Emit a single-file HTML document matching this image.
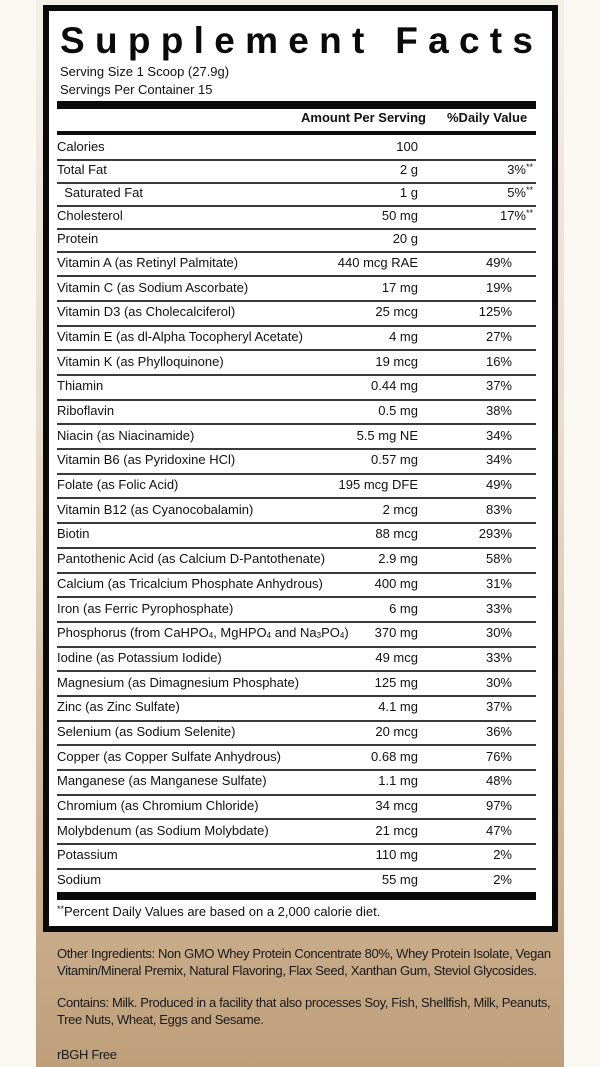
<!DOCTYPE html>
<html><head><meta charset="utf-8">
<style>
html,body{margin:0;padding:0;}
body{width:600px;height:1067px;position:relative;overflow:hidden;background:#fbf8f4;font-family:"Liberation Sans",Arial,sans-serif;color:#111;}
#panel{position:absolute;left:36px;top:0;width:528px;height:1067px;background:linear-gradient(to bottom,#f4efe6 0%,#e6d9c6 45%,#cdb293 80%,#bf9f7a 100%);}
#box{position:absolute;left:43px;top:5px;width:503px;height:915px;border:6px solid #0a0a0a;background:#fff;}
.t{position:absolute;font-size:13px;white-space:nowrap;line-height:16px;}
.r{text-align:right;}
.bar{position:absolute;left:57px;width:479px;background:#0a0a0a;}
.sep{position:absolute;left:57px;width:479px;height:2px;background:#3a3a3a;}
sub{font-size:8px;vertical-align:-1px;line-height:0;}
.p{position:absolute;left:57px;font-size:13px;line-height:17px;color:#1a1a1a;white-space:nowrap;letter-spacing:-0.35px;}
.sup{font-size:9px;position:relative;top:-4px;}
</style></head><body>
<div id="panel"></div>
<div id="box"></div>
<svg style="position:absolute;left:0;top:0" width="600" height="70">
<text x="60" y="53" textLength="473" lengthAdjust="spacing" font-family="Liberation Sans, Arial, sans-serif" font-weight="bold" font-size="37" fill="#0a0a0a">Supplement Facts</text>
</svg>
<div class="t" style="left:60px;top:64px;">Serving Size 1 Scoop (27.9g)</div>
<div class="t" style="left:60px;top:82px;">Servings Per Container 15</div>
<div class="bar" style="top:101px;height:8px;"></div>
<div class="t" style="left:301px;top:110px;font-weight:bold;">Amount Per Serving</div>
<div class="t" style="left:447px;top:110px;font-weight:bold;">%Daily Value</div>
<div class="bar" style="top:131px;height:4px;"></div>
<div id="rows"></div>
<div class="bar" style="top:892px;height:8px;"></div>
<div class="t" style="left:57px;top:904px;"><span class="sup">**</span>Percent Daily Values are based on a 2,000 calorie diet.</div>
<div class="p" style="top:945px;">Other Ingredients: Non GMO Whey Protein Concentrate 80%, Whey Protein Isolate, Vegan<br>Vitamin/Mineral Premix, Natural Flavoring, Flax Seed, Xanthan Gum, Steviol Glycosides.</div>
<div class="p" style="top:994px;">Contains: Milk. Produced in a facility that also processes Soy, Fish, Shellfish, Milk, Peanuts,<br>Tree Nuts, Wheat, Eggs and Sesame.</div>
<div class="p" style="top:1046px;">rBGH Free</div>
<script>
const nutrients=["Calories","Total Fat","&nbsp;&nbsp;Saturated Fat","Cholesterol","Protein","Vitamin A (as Retinyl Palmitate)","Vitamin C (as Sodium Ascorbate)","Vitamin D3 (as Cholecalciferol)","Vitamin E (as dl-Alpha Tocopheryl Acetate)","Vitamin K (as Phylloquinone)","Thiamin","Riboflavin","Niacin (as Niacinamide)","Vitamin B6 (as Pyridoxine HCl)","Folate (as Folic Acid)","Vitamin B12 (as Cyanocobalamin)","Biotin","Pantothenic Acid (as Calcium D-Pantothenate)","Calcium (as Tricalcium Phosphate Anhydrous)","Iron (as Ferric Pyrophosphate)","Phosphorus (from CaHPO<sub>4</sub>, MgHPO<sub>4</sub> and Na<sub>3</sub>PO<sub>4</sub>)","Iodine (as Potassium Iodide)","Magnesium (as Dimagnesium Phosphate)","Zinc (as Zinc Sulfate)","Selenium (as Sodium Selenite)","Copper (as Copper Sulfate Anhydrous)","Manganese (as Manganese Sulfate)","Chromium (as Chromium Chloride)","Molybdenum (as Sodium Molybdate)","Potassium","Sodium"];
const amounts=["100","2 g","1 g","50 mg","20 g","440 mcg RAE","17 mg","25 mcg","4 mg","19 mcg","0.44 mg","0.5 mg","5.5 mg NE","0.57 mg","195 mcg DFE","2 mcg","88 mcg","2.9 mg","400 mg","6 mg","370 mg","49 mcg","125 mg","4.1 mg","20 mcg","0.68 mg","1.1 mg","34 mcg","21 mcg","110 mg","55 mg"];
const dailyValues=["","3%**","5%**","17%**","","49%","19%","125%","27%","16%","37%","38%","34%","34%","49%","83%","293%","58%","31%","33%","30%","33%","30%","37%","36%","76%","48%","97%","47%","2%","2%"];
const rows=document.getElementById('rows');
function rowCenter(i){return i<5?147+23*i:263+24.68*(i-5);}
for(let i=0;i<nutrients.length;i++){
  const c=rowCenter(i);
  const n=document.createElement('div');n.className='t';n.style.left='57px';n.style.top=(c-8)+'px';n.innerHTML=nutrients[i];
  
  
  rows.appendChild(n);
  const a=document.createElement('div');a.className='t r';a.style.left='300px';a.style.width='118px';a.style.top=(c-8)+'px';a.textContent=amounts[i];
  
  
  rows.appendChild(a);
  const d=document.createElement('div');d.className='t';d.style.left='473px';d.style.width='60px';d.style.top=(c-8)+'px';
  const dv=dailyValues[i];
  d.innerHTML=dv.replace('**','<span class="sup">**</span>');
  d.style.textAlign='right';
  if(dv.indexOf('**')<0){d.style.width='39px';}
  
  
  rows.appendChild(d);
  if(i<nutrients.length-1){
    const s=document.createElement('div');s.className='sep';
    s.style.top=Math.round((c+rowCenter(i+1))/2)+'px';
    
    
    rows.appendChild(s);
  }
}
</script>
</body></html>
